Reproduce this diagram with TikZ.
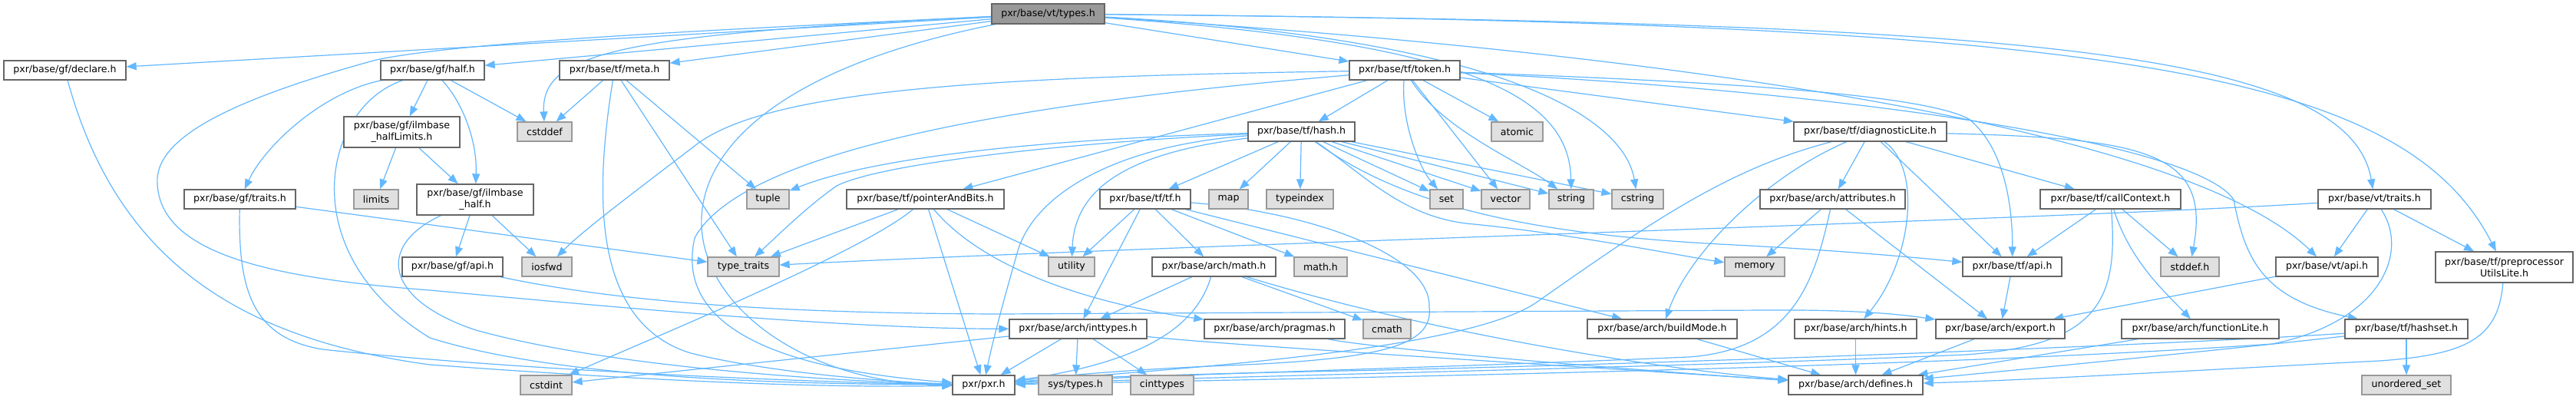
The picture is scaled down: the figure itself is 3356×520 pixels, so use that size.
\documentclass[tikz,border=0pt]{standalone}
\usepackage{fontspec}
\setmainfont{DejaVu Sans}
\usetikzlibrary{arrows.meta}
\definecolor{edgec}{HTML}{63B8FF}
\definecolor{bordc}{HTML}{666666}
\definecolor{sysb}{HTML}{999999}
\definecolor{sysf}{HTML}{E0E0E0}
\definecolor{rootf}{HTML}{999999}
\pgfdeclarelayer{bg}
\pgfsetlayers{bg,main}
\newcommand\mknode[7]{\node[#7,minimum width={(#3-#2)*0.5pt},minimum height={(#5-#4)*0.5pt}] (#1) at ({(#2+#3)/2},{(#4+#5)/2}) {#6};}
\begin{document}
\begin{tikzpicture}[x=0.5pt,y=-0.5pt,
  basen/.style={rectangle,inner sep=0pt,align=center,font=\fontsize{6.3}{7.5}\selectfont,line width=0.65pt},
  nd/.style={basen,draw=bordc,fill=white},
  sysn/.style={basen,draw=sysb,fill=sysf},
  rootn/.style={basen,draw=bordc,fill=rootf},
  edg/.style={draw=edgec,line width=0.6pt,-{Triangle[length=6.5pt,width=5pt]}}]
\useasboundingbox (0,0) rectangle (3356,520);
\begin{pgfonlayer}{bg}
\fill[white] (0,0) rectangle (3356,520);
\end{pgfonlayer}
% nodes
\mknode{types}{1292}{1439}{5}{31}{pxr/base/vt/types.h}{rootn}
\mknode{declare}{5}{164}{79}{104}{pxr/base/gf/declare.h}{nd}
\mknode{half}{496}{631}{79}{104}{pxr/base/gf/half.h}{nd}
\mknode{meta}{729}{872}{79}{104}{pxr/base/tf/meta.h}{nd}
\mknode{token}{1758}{1902}{79}{104}{pxr/base/tf/token.h}{nd}
\mknode{cstddef}{674}{745}{159}{184}{cstddef}{sysn}
\mknode{halflim}{448}{599}{152}{192}{pxr/base/gf/ilmbase\\\_halfLimits.h}{nd}
\mknode{hash}{1626}{1765}{159}{184}{pxr/base/tf/hash.h}{nd}
\mknode{atomic}{1943}{2010}{159}{184}{atomic}{sysn}
\mknode{diag}{2337}{2536}{159}{184}{pxr/base/tf/diagnosticLite.h}{nd}
\mknode{gftraits}{240}{385}{247}{272}{pxr/base/gf/traits.h}{nd}
\mknode{limits}{461}{519}{247}{272}{limits}{sysn}
\mknode{ilmhalf}{543}{695}{240}{280}{pxr/base/gf/ilmbase\\\_half.h}{nd}
\mknode{tuple}{973}{1028}{247}{272}{tuple}{sysn}
\mknode{pab}{1103}{1308}{247}{272}{pxr/base/tf/pointerAndBits.h}{nd}
\mknode{tfh}{1433}{1551}{247}{272}{pxr/base/tf/tf.h}{nd}
\mknode{map}{1575}{1626}{247}{272}{map}{sysn}
\mknode{typeindex}{1650}{1737}{247}{272}{typeindex}{sysn}
\mknode{set}{1863}{1906}{247}{272}{set}{sysn}
\mknode{vector}{1930}{1993}{247}{272}{vector}{sysn}
\mknode{string}{2018}{2076}{247}{272}{string}{sysn}
\mknode{cstring}{2100}{2167}{247}{272}{cstring}{sysn}
\mknode{attr}{2293}{2482}{247}{272}{pxr/base/arch/attributes.h}{nd}
\mknode{callctx}{2658}{2841}{247}{272}{pxr/base/tf/callContext.h}{nd}
\mknode{vttraits}{3020}{3167}{247}{272}{pxr/base/vt/traits.h}{nd}
\mknode{gfapi}{524}{655}{335}{360}{pxr/base/gf/api.h}{nd}
\mknode{iosfwd}{680}{745}{335}{360}{iosfwd}{sysn}
\mknode{typetraits}{922}{1015}{335}{360}{type\_traits}{sysn}
\mknode{utility}{1366}{1426}{335}{360}{utility}{sysn}
\mknode{archmath}{1501}{1662}{335}{360}{pxr/base/arch/math.h}{nd}
\mknode{mathh}{1686}{1755}{335}{360}{math.h}{sysn}
\mknode{memory}{2247}{2325}{335}{360}{memory}{sysn}
\mknode{tfapi}{2557}{2686}{335}{360}{pxr/base/tf/api.h}{nd}
\mknode{stddef}{2815}{2891}{335}{360}{stddef.h}{sysn}
\mknode{vtapi}{2965}{3098}{335}{360}{pxr/base/vt/api.h}{nd}
\mknode{preproc}{3173}{3352}{328}{368}{pxr/base/tf/preprocessor\\UtilsLite.h}{nd}
\mknode{inttypes}{1315}{1494}{416}{441}{pxr/base/arch/inttypes.h}{nd}
\mknode{pragmas}{1569}{1752}{416}{441}{pxr/base/arch/pragmas.h}{nd}
\mknode{cmath}{1776}{1838}{416}{441}{cmath}{sysn}
\mknode{buildmode}{2068}{2263}{416}{441}{pxr/base/arch/buildMode.h}{nd}
\mknode{hints}{2338}{2497}{416}{441}{pxr/base/arch/hints.h}{nd}
\mknode{export}{2522}{2690}{416}{441}{pxr/base/arch/export.h}{nd}
\mknode{funclite}{2764}{2969}{416}{441}{pxr/base/arch/functionLite.h}{nd}
\mknode{hashset}{3055}{3215}{416}{441}{pxr/base/tf/hashset.h}{nd}
\mknode{cstdint}{678}{745}{489}{514}{cstdint}{sysn}
\mknode{pxr}{1241}{1322}{489}{514}{pxr/pxr.h}{nd}
\mknode{systypes}{1353}{1449}{489}{514}{sys/types.h}{sysn}
\mknode{cinttypes}{1473}{1555}{489}{514}{cinttypes}{sysn}
\mknode{defines}{2330}{2505}{489}{514}{pxr/base/arch/defines.h}{nd}
\mknode{unordered}{3077}{3193}{489}{514}{unordered\_set}{sysn}
% edges
\begin{pgfonlayer}{bg}
% vt/types.h
\draw[edg] (types) -- (declare);
\draw[edg] (types) -- (half);
\draw[edg] (types) -- (meta);
\draw[edg] (types) -- (token);
\draw[edg] (types) .. controls (800,45) and (705,70) .. (cstddef);
\draw[edg] (types) .. controls (1900,55) and (2045,120) .. (string);
\draw[edg] (types) .. controls (1950,50) and (2115,150) .. (cstring);
\draw[edg] (types) .. controls (700,150) and (900,500) .. (pxr);
\draw[edg] (types) .. controls (900,40) and (600,55) .. (490,78) .. controls (300,130) and (200,180) .. (205,240) .. controls (210,330) and (350,362) .. (560,378) .. controls (800,400) and (1100,428) .. (inttypes);
\draw[edg] (types) .. controls (2200,70) and (2850,170) .. (vtapi);
\draw[edg] (types) .. controls (2600,30) and (3060,60) .. (vttraits);
\draw[edg] (types) .. controls (2750,30) and (3130,90) .. (preproc);
% gf
\draw[edg] (declare) .. controls (150,330) and (300,440) .. (560,475) .. controls (900,500) and (1100,505) .. (pxr);
\draw[edg] (half) .. controls (420,140) and (380,330) .. (560,440) .. controls (750,500) and (1100,500) .. (pxr);
\draw[edg] (half) .. controls (420,120) and (345,190) .. (gftraits);
\draw[edg] (half) -- (halflim);
\draw[edg] (half) -- (cstddef);
\draw[edg] (half) .. controls (600,130) and (622,180) .. (ilmhalf);
\draw[edg] (halflim) -- (limits);
\draw[edg] (halflim) -- (ilmhalf);
\draw[edg] (ilmhalf) -- (gfapi);
\draw[edg] (ilmhalf) -- (iosfwd);
\draw[edg] (ilmhalf) .. controls (490,320) and (500,390) .. (620,430) .. controls (800,480) and (1100,497) .. (pxr);
\draw[edg] (gftraits) -- (typetraits);
\draw[edg] (gftraits) .. controls (310,380) and (330,440) .. (420,455) .. controls (700,485) and (1100,499) .. (pxr);
\draw[edg] (gfapi) .. controls (800,392) and (1000,408) .. (1300,409) -- (2300,404) .. controls (2420,403) and (2480,410) .. (export);
% meta
\draw[edg] (meta) -- (cstddef);
\draw[edg] (meta) -- (typetraits);
\draw[edg] (meta) -- (tuple);
\draw[edg] (meta) .. controls (775,250) and (770,420) .. (900,460) .. controls (1000,485) and (1150,497) .. (pxr);
% token
\draw[edg] (token) -- (hash);
\draw[edg] (token) -- (atomic);
\draw[edg] (token) -- (pab);
\draw[edg] (token) -- (diag);
\draw[edg] (token) -- (vector);
\draw[edg] (token) .. controls (1880,170) and (1980,210) .. (string);
\draw[edg] (token) .. controls (1825,160) and (1850,220) .. (set);
\draw[edg] (token) .. controls (1300,100) and (1000,115) .. (905,190) .. controls (820,255) and (760,300) .. (iosfwd);
\draw[edg] (token) .. controls (1500,120) and (980,170) .. (905,310) .. controls (880,420) and (1000,480) .. (pxr);
\draw[edg] (token) .. controls (2200,105) and (2500,120) .. (2565,155) .. controls (2615,195) and (2622,280) .. (tfapi);
\draw[edg] (token) .. controls (2400,118) and (2860,185) .. (2910,260) .. controls (2925,340) and (2950,390) .. (hashset);
% hash
\draw[edg] (hash) .. controls (1400,180) and (1150,200) .. (tuple);
\draw[edg] (hash) .. controls (1400,185) and (1150,212) .. (1090,242) .. controls (1050,270) and (1010,310) .. (typetraits);
\draw[edg] (hash) .. controls (1450,190) and (1345,255) .. (1325,330) .. controls (1305,400) and (1292,450) .. (pxr);
\draw[edg] (hash) .. controls (1460,200) and (1400,250) .. (utility);
\draw[edg] (hash) -- (tfh);
\draw[edg] (hash) -- (map);
\draw[edg] (hash) -- (typeindex);
\draw[edg] (hash) -- (set);
\draw[edg] (hash) -- (vector);
\draw[edg] (hash) -- (string);
\draw[edg] (hash) -- (cstring);
\draw[edg] (hash) .. controls (1780,230) and (1830,285) .. (1920,292) .. controls (2050,305) and (2200,335) .. (memory);
\draw[edg] (hash) .. controls (1830,270) and (2000,305) .. (2240,318) .. controls (2400,326) and (2500,336) .. (tfapi);
% tf.h
\draw[edg] (tfh) -- (utility);
\draw[edg] (tfh) -- (archmath);
\draw[edg] (tfh) -- (mathh);
\draw[edg] (tfh) -- (inttypes);
\draw[edg] (tfh) -- (buildmode);
\draw[edg] (tfh) .. controls (1700,275) and (1865,330) .. (1862,400) .. controls (1868,450) and (1800,468) .. (1600,476) .. controls (1450,482) and (1360,492) .. (pxr);
% pointerAndBits
\draw[edg] (pab) -- (typetraits);
\draw[edg] (pab) -- (utility);
\draw[edg] (pab) -- (pxr);
\draw[edg] (pab) .. controls (1120,330) and (850,440) .. (cstdint);
\draw[edg] (pab) .. controls (1290,360) and (1450,400) .. (pragmas);
% arch/math
\draw[edg] (archmath) -- (inttypes);
\draw[edg] (archmath) -- (cmath);
\draw[edg] (archmath) .. controls (1560,420) and (1500,470) .. (pxr);
\draw[edg] (archmath) .. controls (1850,430) and (2150,480) .. (defines);
% inttypes
\draw[edg] (inttypes) -- (pxr);
\draw[edg] (inttypes) -- (systypes);
\draw[edg] (inttypes) -- (cinttypes);
\draw[edg] (inttypes) -- (cstdint);
\draw[edg] (inttypes) .. controls (1600,450) and (2100,480) .. (defines);
\draw[edg] (pragmas) .. controls (1800,455) and (2100,480) .. (defines);
% diagnosticLite
\draw[edg] (diag) -- (attr);
\draw[edg] (diag) -- (tfapi);
\draw[edg] (diag) -- (callctx);
\draw[edg] (diag) .. controls (2250,220) and (2150,290) .. (2000,395) .. controls (1900,460) and (1500,482) .. (pxr);
\draw[edg] (diag) .. controls (2300,230) and (2200,330) .. (buildmode);
\draw[edg] (diag) .. controls (2505,220) and (2490,340) .. (hints);
\draw[edg] (diag) .. controls (2800,180) and (2880,200) .. (stddef);
% attributes
\draw[edg] (attr) -- (memory);
\draw[edg] (attr) -- (export);
\draw[edg] (attr) .. controls (2365,360) and (2340,455) .. (2200,465) .. controls (1850,480) and (1500,488) .. (pxr);
% callContext
\draw[edg] (callctx) -- (tfapi);
\draw[edg] (callctx) -- (stddef);
\draw[edg] (callctx) .. controls (2775,340) and (2820,380) .. (funclite);
\draw[edg] (callctx) .. controls (2760,390) and (2735,450) .. (2560,462) .. controls (2200,478) and (1600,490) .. (pxr);
% vt/traits
\draw[edg] (vttraits) -- (vtapi);
\draw[edg] (vttraits) -- (preproc);
\draw[edg] (vttraits) .. controls (2700,285) and (1500,320) .. (typetraits);
\draw[edg] (vttraits) .. controls (3140,330) and (3100,420) .. (2960,448) .. controls (2500,480) and (1700,493) .. (pxr);
\draw[edg] (vtapi) -- (export);
\draw[edg] (preproc) .. controls (3255,440) and (3215,462) .. (3100,470) .. controls (2900,480) and (2650,495) .. (defines);
% hashset
\draw[edg] (hashset) -- (unordered);
\draw[edg] (hashset) .. controls (2950,450) and (2650,480) .. (defines);
\draw[edg] (hashset) .. controls (2900,445) and (2300,470) .. (1800,482) .. controls (1500,488) and (1380,493) .. (pxr);
% arch leaves
\draw[edg] (tfapi) -- (export);
\draw[edg] (export) -- (defines);
\draw[edg] (hints) -- (defines);
\draw[edg] (funclite) -- (defines);
\draw[edg] (buildmode) -- (defines);
\end{pgfonlayer}
\end{tikzpicture}
\end{document}
